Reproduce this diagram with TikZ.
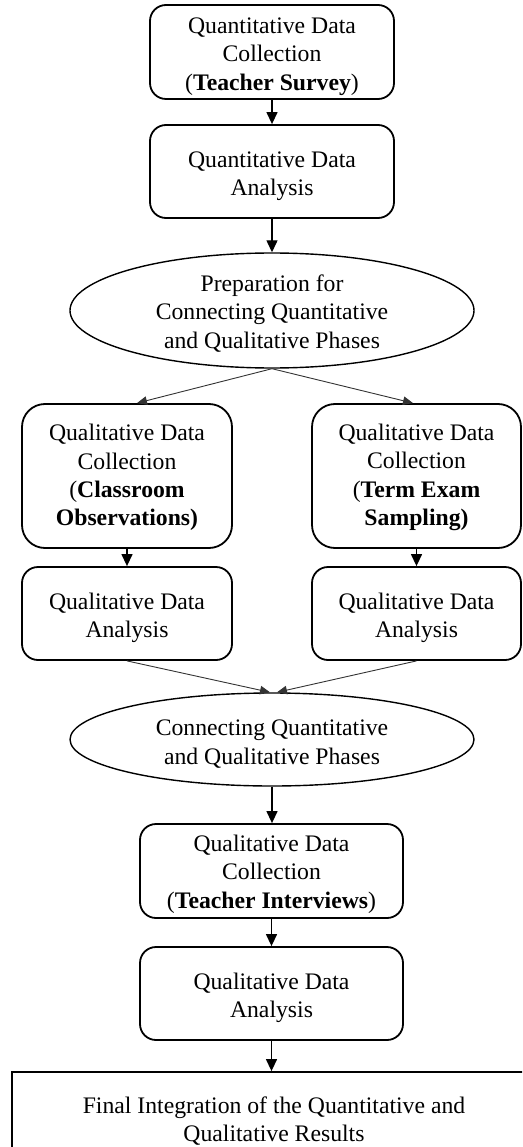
\documentclass[tikz,border=0pt]{standalone}
\usepackage{fontspec}
\setmainfont{Liberation Serif}
\usetikzlibrary{shapes.geometric,arrows.meta,calc}
\begin{document}
\begin{tikzpicture}[x=1pt,y=-1pt,
  every node/.style={inner sep=0pt},
  label text/.style={font=\fontsize{23.7}{28.4}\selectfont, align=center},
  stepbox/.style={draw, line width=1.8pt, rounded corners=16pt},
  tallbox/.style={draw, line width=1.8pt, rounded corners=23pt},
  phase/.style={draw, ellipse, line width=1.4pt},
  finalbox/.style={draw, line width=1.8pt},
  flow/.style={line width=1.3pt, -{Triangle[length=12pt,width=11pt]}},
  split/.style={line width=0.9pt, draw=black!80, -{Triangle[length=10pt,width=8.5pt]}}]
\useasboundingbox (0,0) rectangle (522,1147);
\clip (0,0) rectangle (522,1147);

% quantitative strand
\node[stepbox, minimum width=244pt, minimum height=94pt] (qc) at (272,52) {};
\node[label text] (qc-t) at ($(qc)+(0,4.5)$)
  {Quantitative Data\\Collection\\(\textbf{Teacher Survey})};
\node[stepbox, minimum width=244pt, minimum height=93pt] (qa) at (272,171.5) {};
\node[label text] (qa-t) at ($(qa)+(0,4.5)$) {Quantitative Data\\Analysis};

\node[phase, minimum width=404pt, minimum height=115pt] (e1) at (272,310.5) {};
\node[label text] (e1-t) at ($(e1)+(0,3)$)
  {Preparation for\\Connecting Quantitative\\and Qualitative Phases};

% two parallel qualitative strands
\node[tallbox, minimum width=210pt, minimum height=144pt] (qc1) at (127,476) {};
\node[label text] (qc1-t) at ($(qc1)+(0,1.5)$)
  {Qualitative Data\\Collection\\(\textbf{Classroom}\\\textbf{Observations)}};
\node[tallbox, minimum width=209pt, minimum height=144pt] (qc2) at (416.5,476) {};
\node[label text] (qc2-t) at ($(qc2)+(0,1.5)$)
  {Qualitative Data\\Collection\\(\textbf{Term Exam}\\\textbf{Sampling)}};
\node[stepbox, minimum width=210pt, minimum height=93pt] (qa1) at (127,613.5) {};
\node[label text] (qa1-t) at ($(qa1)+(0,4.5)$) {Qualitative Data\\Analysis};
\node[stepbox, minimum width=209pt, minimum height=93pt] (qa2) at (416.5,613.5) {};
\node[label text] (qa2-t) at ($(qa2)+(0,4.5)$) {Qualitative Data\\Analysis};

\node[phase, minimum width=404pt, minimum height=93pt] (e2) at (272,739.5) {};
\node[label text] (e2-t) at ($(e2)+(0,4.5)$)
  {Connecting Quantitative\\and Qualitative Phases};

% interview strand
\node[stepbox, minimum width=263pt, minimum height=94pt] (qc3) at (271.5,871) {};
\node[label text] (qc3-t) at ($(qc3)+(0,3)$)
  {Qualitative Data\\Collection\\(\textbf{Teacher Interviews})};
\node[stepbox, minimum width=263pt, minimum height=93pt] (qa3) at (271.5,993.5) {};
\node[label text] (qa3-t) at ($(qa3)+(0,4.5)$) {Qualitative Data\\Analysis};

\node[finalbox, minimum width=524pt, minimum height=100pt] (fin) at (274,1122) {};
\node[label text] (fin-t) at ($(fin)+(0,-1)$)
  {Final Integration of the Quantitative and\\Qualitative Results};

% connectors
\draw[flow] (qc) -- (qa);
\draw[flow] (qa) -- (e1);
\draw[split] (e1.south) -- ($(qc1.north)+(10,0)$);
\draw[split] (e1.south) -- ($(qc2.north)+(-3.5,0)$);
\draw[flow] (qc1) -- (qa1);
\draw[flow] (qc2) -- (qa2);
\draw[split] (qa1.south) -- ($(e2.north)+(-2,0)$);
\draw[split] (qa2.south) -- ($(e2.north)+(5,0)$);
\draw[flow] (e2.south) -- (e2.south |- qc3.north);
\draw[flow] (qc3) -- (qa3);
\draw[flow] (qa3.south) -- (qa3.south |- fin.north);
\end{tikzpicture}
\end{document}
